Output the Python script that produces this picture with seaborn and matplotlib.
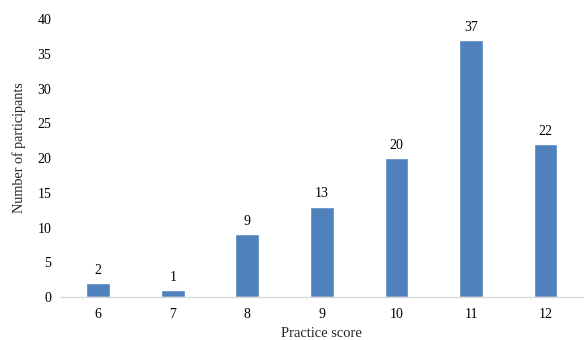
import matplotlib
matplotlib.use("Agg")
import matplotlib.pyplot as plt
import seaborn as sns
import pandas as pd
from matplotlib.ticker import FixedLocator

scores = ["6", "7", "8", "9", "10", "11", "12"]
participants = [2, 1, 9, 13, 20, 37, 22]
y_ticks = [0, 5, 10, 15, 20, 25, 30, 35, 40]

sns.set_style("white")
plt.rcParams["font.family"] = ["Liberation Serif", "DejaVu Serif"]

df = pd.DataFrame({"score": scores, "count": participants})

fig = plt.figure(figsize=(5.84, 3.40), dpi=100)
ax = fig.add_axes([0.1045, 0.1265, 0.8935, 0.8175])

sns.barplot(data=df, x="score", y="count", order=scores, color="#4F81BD",
            saturation=1, width=0.32, ax=ax)

ax.set_xlim(-0.5, len(scores) - 0.5)
ax.set_ylim(0, 40)
ax.set_yticks(y_ticks)

for i, v in enumerate(participants):
    ax.annotate(str(v), (i, v), xytext=(0, 4.5), textcoords="offset points",
                ha="center", va="bottom", fontsize=10, color="black")

for side in ["left", "right", "top"]:
    ax.spines[side].set_visible(False)
ax.spines["bottom"].set_color("#D9D9D9")
ax.spines["bottom"].set_linewidth(1.0)

ax.tick_params(axis="y", length=0, labelsize=10, pad=7, colors="black")
ax.tick_params(axis="x", which="major", length=0, labelsize=10, pad=8, colors="black")
ax.xaxis.set_minor_locator(FixedLocator([i - 0.5 for i in range(len(scores) + 1)]))
ax.tick_params(axis="x", which="minor", length=4, color="#D9D9D9", width=1.0)

ax.set_xlabel("Practice score", fontsize=10.5, labelpad=4)
ax.set_ylabel("Number of participants", fontsize=10.2)
ax.yaxis.set_label_coords(-0.067, 0.538)

fig.savefig("out.png", dpi=100)
